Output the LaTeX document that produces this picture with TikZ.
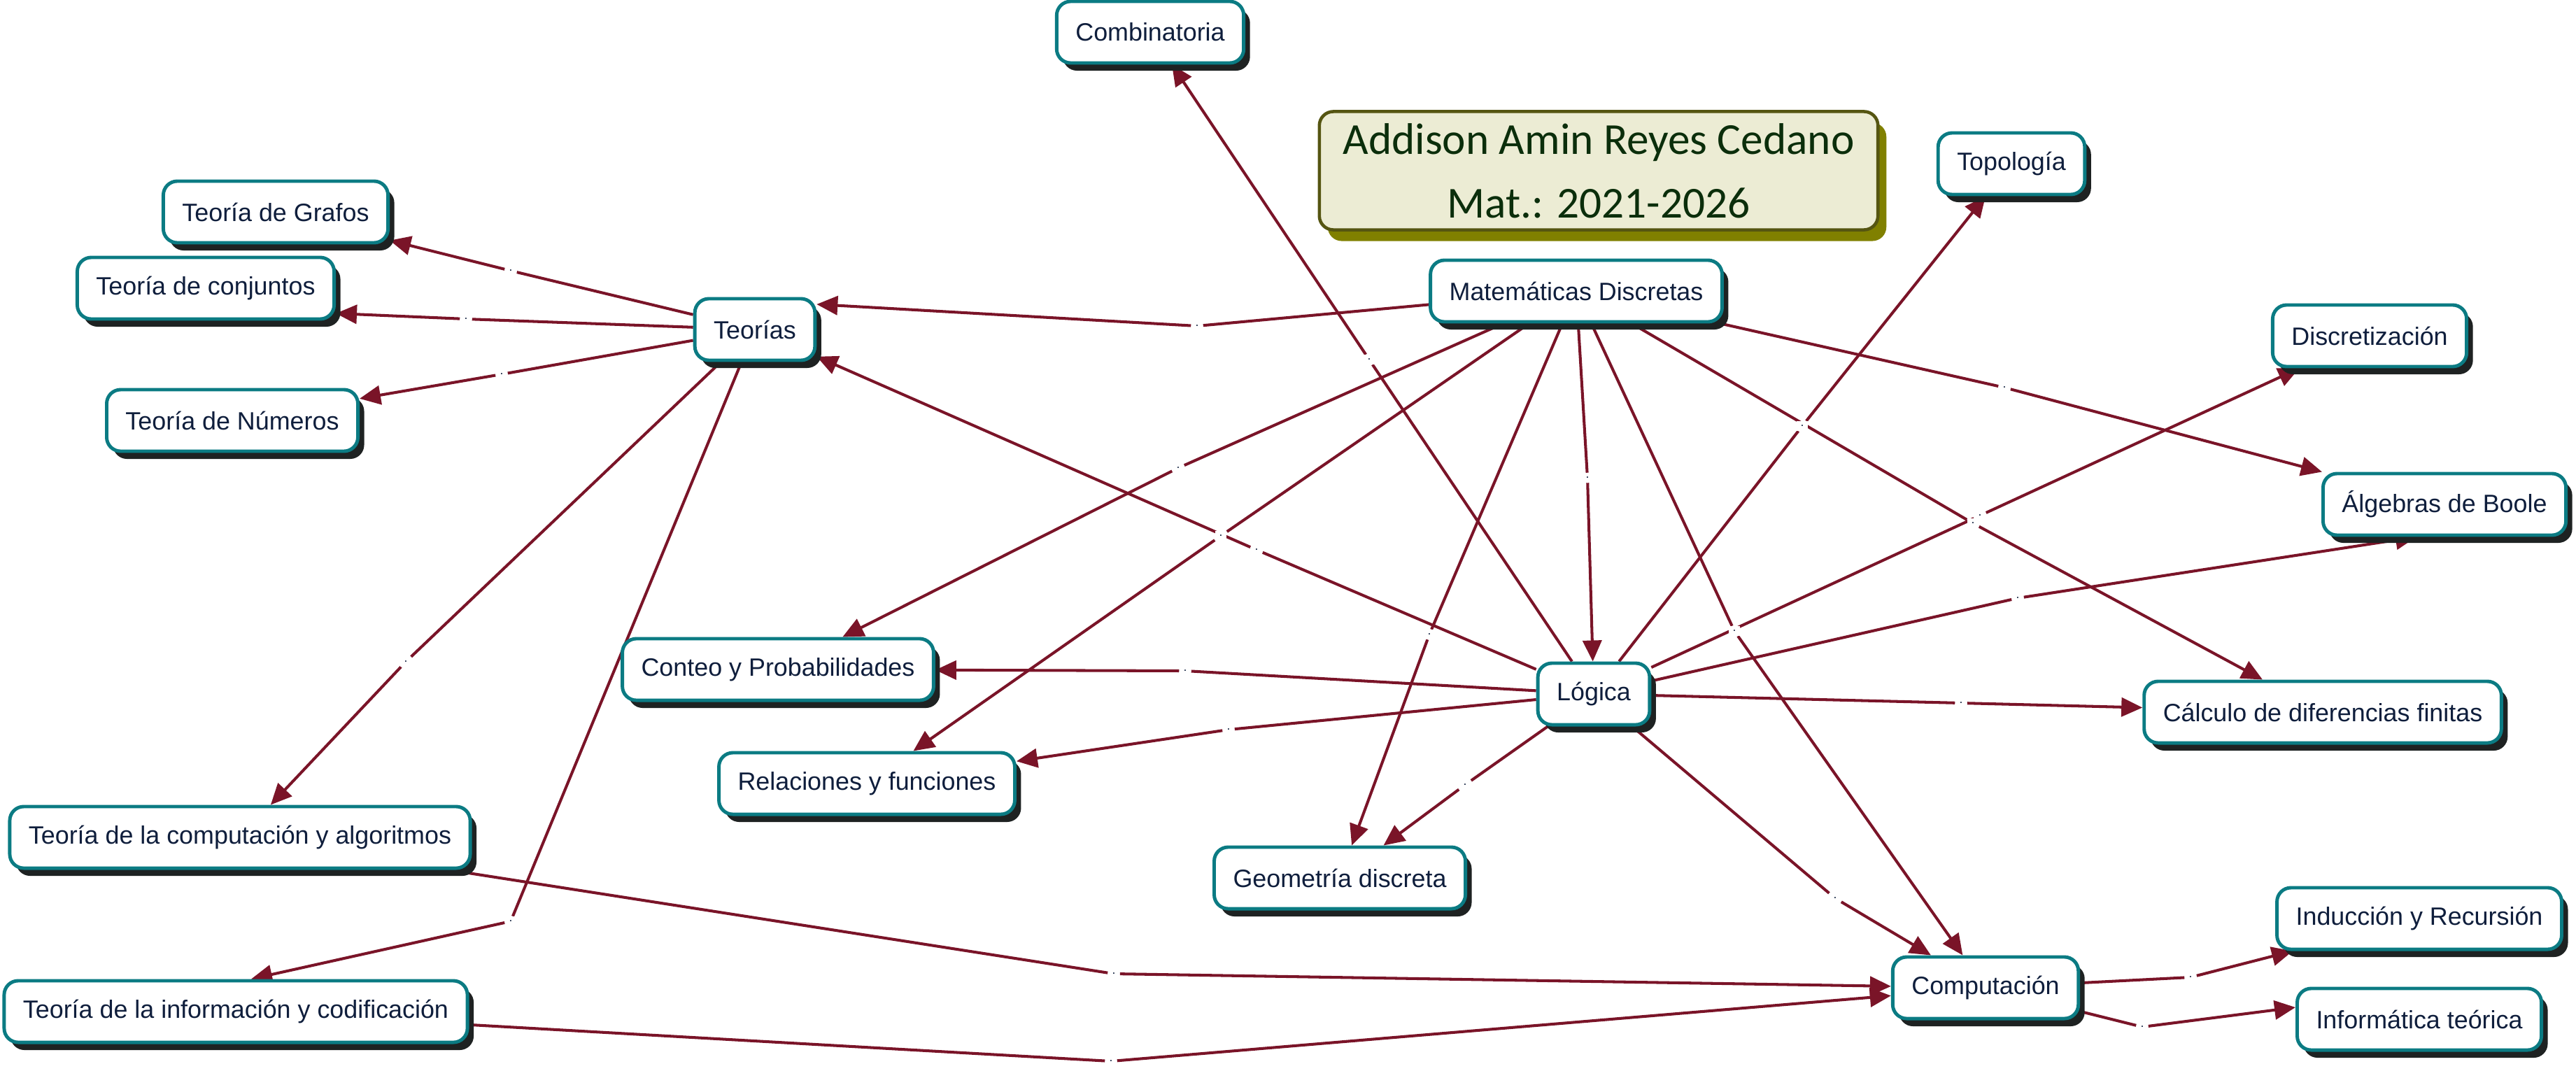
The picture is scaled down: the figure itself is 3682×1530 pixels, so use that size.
\documentclass[tikz,border=0pt]{standalone}
\usepackage{fontspec}
\setmainfont{Liberation Sans}
\newfontfamily\titlefont{Carlito}
\usetikzlibrary{arrows.meta,shadows,backgrounds}
\definecolor{tealc}{HTML}{0B7B83}
\definecolor{shadowc}{HTML}{1E2222}
\definecolor{textc}{HTML}{0F1E3C}
\definecolor{linec}{HTML}{7A1428}
\definecolor{titlefill}{HTML}{ECECD4}
\definecolor{titledraw}{HTML}{555511}
\definecolor{titleshadow}{HTML}{808000}
\definecolor{titletext}{HTML}{0B2E0B}
\tikzset{
  concept/.style={rounded corners=0.2cm, draw=tealc, line width=1.4pt, fill=white,
    text=textc, font=\fontsize{10.2}{12}\selectfont, minimum height=0.88cm, inner xsep=0.27cm,
    drop shadow={shadow xshift=0.09cm, shadow yshift=-0.11cm, fill=shadowc, opacity=1}},
  titlebox/.style={rounded corners=0.2cm, draw=titledraw, line width=1.3pt, fill=titlefill,
    text=titletext, font=\titlefont\fontsize{18}{26}\selectfont, align=center,
    minimum width=7.98cm, minimum height=1.69cm,
    drop shadow={shadow xshift=0.12cm, shadow yshift=-0.16cm, fill=titleshadow, opacity=1}},
  lab/.style={fill=white, inner sep=1.6pt, text=textc, font=\fontsize{5}{5}\selectfont},
  conn/.style={draw=linec, line width=1.15pt},
  arr/.style={conn, -{Triangle[length=0.3cm,width=0.27cm]}}
}
\begin{document}
\begin{tikzpicture}[x=0.01cm,y=-0.01cm]
\useasboundingbox (0,0) rectangle (3682,1530);
% concepts
\node[concept] (comb) at (1644,46) {Combinatoria};
\node[titlebox] (title) at (2285,244) {Addison Amin Reyes Cedano\\Mat.: 2021-2026};
\node[concept] (topo) at (2875,234) {Topología};
\node[concept] (grafos) at (394,303) {Teoría de Grafos};
\node[concept] (conj) at (294,412) {Teoría de conjuntos};
\node[concept] (teorias) at (1079,471) {Teorías};
\node[concept] (mat) at (2253,416) {Matemáticas Discretas};
\node[concept] (discr) at (3387,480) {Discretización};
\node[concept] (num) at (332,601) {Teoría de Números};
\node[concept] (boole) at (3494,721) {Álgebras de Boole};
\node[concept] (conteo) at (1112,957) {Conteo y Probabilidades};
\node[concept] (logica) at (2278,992) {Lógica};
\node[concept] (calc) at (3320,1018) {Cálculo de diferencias finitas};
\node[concept] (rel) at (1239,1120) {Relaciones y funciones};
\node[concept] (tcomp) at (343,1197) {Teoría de la computación y algoritmos};
\node[concept] (geom) at (1915,1255) {Geometría discreta};
\node[concept] (induc) at (3458,1313) {Inducción y Recursión};
\node[concept] (comp) at (2838,1412) {Computación};
\node[concept] (info) at (337,1446) {Teoría de la información y codificación};
\node[concept] (infteo) at (3458,1457) {Informática teórica};
% linking phrases
\node[lab] (l1) at (1711,466) {.};
\node[lab] (l2) at (730,387) {.};
\node[lab] (l3) at (666,456) {.};
\node[lab] (l4) at (717,535) {.};
\node[lab] (l5) at (580,946) {.};
\node[lab] (l6) at (730,1317) {.};
\node[lab] (l7) at (1592,1392) {.};
\node[lab] (l8) at (1588,1517) {.};
\node[lab] (l9) at (1796,786) {.};
\node[lab] (l10) at (1957,514) {.};
\node[lab] (l11) at (2576,609) {.};
\node[lab] (l12) at (2830,737) {.};
\node[lab] (l13) at (2884,855) {.};
\node[lab] (l14) at (2803,1005) {.};
\node[lab] (l15) at (1694,959) {.};
\node[lab] (l16) at (1756,1043) {.};
\node[lab] (l17) at (2094,1122) {.};
\node[lab] (l18) at (2623,1284) {.};
\node[lab] (l19) at (2269,683) {.};
\node[lab] (l20) at (1684,669) {.};
\node[lab] (l21) at (1745,766) {.};
\node[lab] (l22) at (2043,907) {.};
\node[lab] (l23) at (2479,902) {.};
\node[lab] (l24) at (2865,554) {.};
\node[lab] (l25) at (2820,748) {.};
\node[lab] (l26) at (3131,1397) {.};
\node[lab] (l27) at (3062,1468) {.};
% connectors
\begin{pgfonlayer}{background}
\draw[conn] (mat) -- (l1);  \draw[arr] (l1) -- ([yshift=0.36cm]teorias.east);
\draw[conn] (teorias) -- (l2);  \draw[arr] (l2) -- (grafos);
\draw[conn] (teorias) -- (l3);  \draw[arr] (l3) -- ([yshift=-0.36cm]conj.east);
\draw[conn] (teorias) -- (l4);  \draw[arr] (l4) -- (num);
\draw[conn] (teorias) -- (l5);  \draw[arr] (l5) -- (tcomp);
\draw[conn] (teorias) -- (l6);  \draw[arr] (l6) -- ([xshift=0.22cm]info.north);
\draw[conn] (tcomp) -- (l7);  \draw[arr] (l7) -- (comp);
\draw[conn] (info) -- (l8);  \draw[arr] (l8) -- (comp);
\draw[conn] (logica) -- (l9);  \draw[arr] (l9) -- (teorias);
\draw[conn] (logica) -- (l10);  \draw[arr] (l10) -- (comb);
\draw[conn] (logica) -- (l11);  \draw[arr] (l11) -- (topo);
\draw[conn] (logica) -- (l12);  \draw[arr] (l12) -- (discr);
\draw[conn] (logica) -- (l13);  \draw[arr] (l13) -- ([xshift=-0.4cm]boole.south);
\draw[conn] (logica) -- (l14);  \draw[arr] (l14) -- (calc);
\draw[conn] (logica) -- (l15);  \draw[arr] (l15) -- (conteo);
\draw[conn] (logica) -- (l16);  \draw[arr] (l16) -- (rel);
\draw[conn] (logica) -- (l17);  \draw[arr] (l17) -- (geom);
\draw[conn] (logica) -- (l18);  \draw[arr] (l18) -- (comp);
\draw[conn] (mat) -- (l19);  \draw[arr] (l19) -- (logica);
\draw[conn] (mat) -- (l20);  \draw[arr] (l20) -- (conteo);
\draw[conn] (mat) -- (l21);  \draw[arr] (l21) -- (rel);
\draw[conn] (mat) -- (l22);  \draw[arr] (l22) -- (geom);
\draw[conn] (mat) -- (l23);  \draw[arr] (l23) -- (comp);
\draw[conn] (mat) -- (l24);  \draw[arr] (l24) -- (boole);
\draw[conn] (mat) -- (l25);  \draw[arr] (l25) -- (calc);
\draw[conn] (comp) -- (l26);  \draw[arr] (l26) -- (induc);
\draw[conn] (comp) -- (l27);  \draw[arr] (l27) -- ([yshift=0.17cm]infteo.west);
\end{pgfonlayer}
\end{tikzpicture}
\end{document}
